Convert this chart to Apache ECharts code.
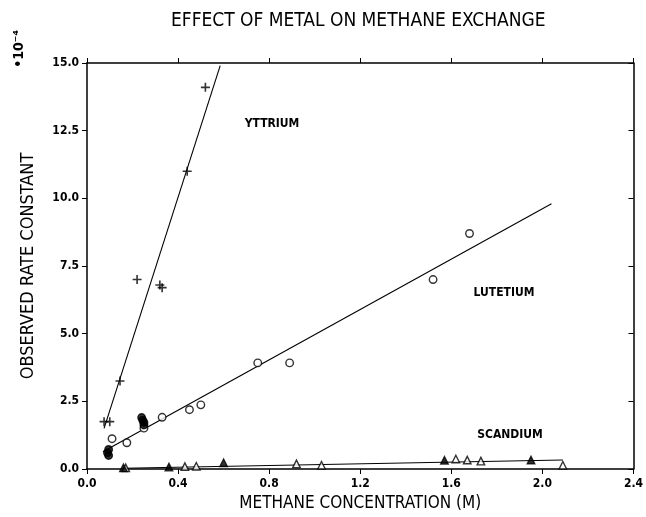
<!DOCTYPE html>
<html>
<head>
<meta charset="utf-8">
<script src="https://cdn.jsdelivr.net/npm/echarts@6/dist/echarts.min.js"></script>
<style>
  html, body { margin: 0; padding: 0; background: #fff; }
  #mychart { width: 646px; height: 517px; }
</style>
</head>
<body>
<div id="mychart"></div>
<script>
// axis ticks
const xTicks = [0, 0.4, 0.8, 1.2, 1.6, 2.0, 2.4];
const yTicks = [0, 2.5, 5.0, 7.5, 10.0, 12.5, 15.0];

// yttrium (+)
const yttriumX = [0.075, 0.10, 0.145, 0.22, 0.32, 0.33, 0.44, 0.52];
const yttriumY = [1.75, 1.75, 3.25, 7.0, 6.8, 6.7, 11.0, 14.1];
const yttriumFit = [[0.075, 1.5], [0.585, 14.9]];

// lutetium (o), open and filled
const lutetiumOpenX = [0.11, 0.175, 0.25, 0.33, 0.45, 0.50, 0.75, 0.89, 1.52, 1.68];
const lutetiumOpenY = [1.12, 0.97, 1.51, 1.91, 2.19, 2.37, 3.92, 3.92, 7.0, 8.7];
const lutetiumFillX = [0.095, 0.09, 0.095, 0.24, 0.245, 0.25, 0.25];
const lutetiumFillY = [0.72, 0.6, 0.5, 1.9, 1.8, 1.72, 1.63];
const lutetiumFit = [[0.07, 0.64], [2.04, 9.8]];

// scandium (triangles), filled and open
const scandiumFillX = [0.16, 0.36, 0.60, 1.57, 1.95];
const scandiumFillY = [0.04, 0.07, 0.23, 0.32, 0.33];
const scandiumOpenX = [0.17, 0.43, 0.48, 0.92, 1.03, 1.62, 1.67, 1.73, 2.09];
const scandiumOpenY = [0.04, 0.09, 0.10, 0.19, 0.14, 0.37, 0.33, 0.29, 0.14];
const scandiumFit = [[0.16, 0.03], [2.09, 0.33]];

const FONT = '"DejaVu Sans Condensed", "DejaVu Sans", sans-serif';
const plusPath = 'path://M4.1,0H5.9V4.1H10V5.9H5.9V10H4.1V5.9H0V4.1H4.1Z';

function zip(xs, ys) {
  return xs.map((x, i) => [x, ys[i]]);
}

function fitLine(data) {
  return {
    type: 'line',
    data: data,
    showSymbol: false,
    symbol: 'none',
    silent: true,
    lineStyle: { color: '#000', width: 1.1 },
    z: 2,
  };
}

function points(data, symbol, size, fill) {
  return {
    type: 'scatter',
    data: data,
    symbol: symbol,
    symbolSize: size,
    itemStyle: {
      color: fill,
      borderColor: '#000',
      borderWidth: symbol === plusPath ? 0 : 1.4,
    },
    z: 3,
  };
}

let myChart = echarts.init(document.getElementById('mychart'));

let axisCommon = {
  min: 0,
  axisLine: { onZero: false, lineStyle: { color: '#000', width: 1.5 } },
  splitLine: { show: false },
};

let option = {
  animation: false,
  title: {
    text: 'EFFECT OF METAL ON METHANE EXCHANGE',
    left: 166,
    top: 7,
    textStyle: { fontFamily: FONT, fontSize: 19, fontWeight: 'normal', color: '#000' },
  },
  grid: { left: 87, right: 10, top: 63, bottom: 44 },
  xAxis: [
    Object.assign({}, axisCommon, {
      type: 'value',
      max: xTicks[xTicks.length - 1],
      interval: 0.4,
      position: 'bottom',
      name: 'METHANE CONCENTRATION (M)',
      nameLocation: 'middle',
      nameGap: 26,
      nameTextStyle: { fontFamily: FONT, fontSize: 17, color: '#000' },
      axisTick: { show: true, length: 5, lineStyle: { color: '#000' } },
      axisLabel: {
        margin: 9,
        color: '#000',
        fontFamily: FONT,
        fontSize: 12,
        fontWeight: 'bold',
        formatter: (v) => v.toFixed(1),
      },
    }),
    Object.assign({}, axisCommon, {
      type: 'value',
      max: xTicks[xTicks.length - 1],
      interval: 0.4,
      position: 'top',
      axisTick: { show: true, length: 5, lineStyle: { color: '#000' } },
      axisLabel: { show: false },
    }),
  ],
  yAxis: [
    Object.assign({}, axisCommon, {
      type: 'value',
      max: yTicks[yTicks.length - 1],
      interval: 2.5,
      position: 'left',
      name: 'OBSERVED RATE CONSTANT',
      nameLocation: 'middle',
      nameGap: 50,
      nameTextStyle: { fontFamily: FONT, fontSize: 18, color: '#000' },
      axisTick: { show: true, length: 5, lineStyle: { color: '#000' } },
      axisLabel: {
        margin: 8,
        color: '#000',
        fontFamily: FONT,
        fontSize: 12,
        fontWeight: 'bold',
        formatter: (v) => v.toFixed(1),
      },
    }),
    Object.assign({}, axisCommon, {
      type: 'value',
      max: yTicks[yTicks.length - 1],
      interval: 2.5,
      position: 'right',
      axisTick: { show: true, inside: true, length: 5, lineStyle: { color: '#000' } },
      axisLabel: { show: false },
    }),
  ],
  graphic: [
    {
      type: 'text',
      left: 12,
      top: 30,
      rotation: Math.PI / 2,
      style: {
        text: '•10⁻⁴',
        font: 'bold 14px ' + FONT,
        fill: '#000',
      },
    },
    {
      type: 'text',
      x: 272,
      y: 124,
      style: { text: 'YTTRIUM', font: 'bold 12px ' + FONT, fill: '#000', align: 'center', verticalAlign: 'middle' },
    },
    {
      type: 'text',
      x: 504,
      y: 293,
      style: { text: 'LUTETIUM', font: 'bold 12px ' + FONT, fill: '#000', align: 'center', verticalAlign: 'middle' },
    },
    {
      type: 'text',
      x: 510,
      y: 435,
      style: { text: 'SCANDIUM', font: 'bold 12px ' + FONT, fill: '#000', align: 'center', verticalAlign: 'middle' },
    },
  ],
  series: [
    fitLine(yttriumFit),
    fitLine(lutetiumFit),
    fitLine(scandiumFit),
    points(zip(yttriumX, yttriumY), plusPath, 9, '#000'),
    points(zip(lutetiumOpenX, lutetiumOpenY), 'circle', 7.5, '#fff'),
    points(zip(lutetiumFillX, lutetiumFillY), 'circle', 7.5, '#000'),
    points(zip(scandiumOpenX, scandiumOpenY), 'triangle', 7.5, '#fff'),
    points(zip(scandiumFillX, scandiumFillY), 'triangle', 7.5, '#000'),
  ],
};

myChart.setOption(option);
</script>
</body>
</html>
